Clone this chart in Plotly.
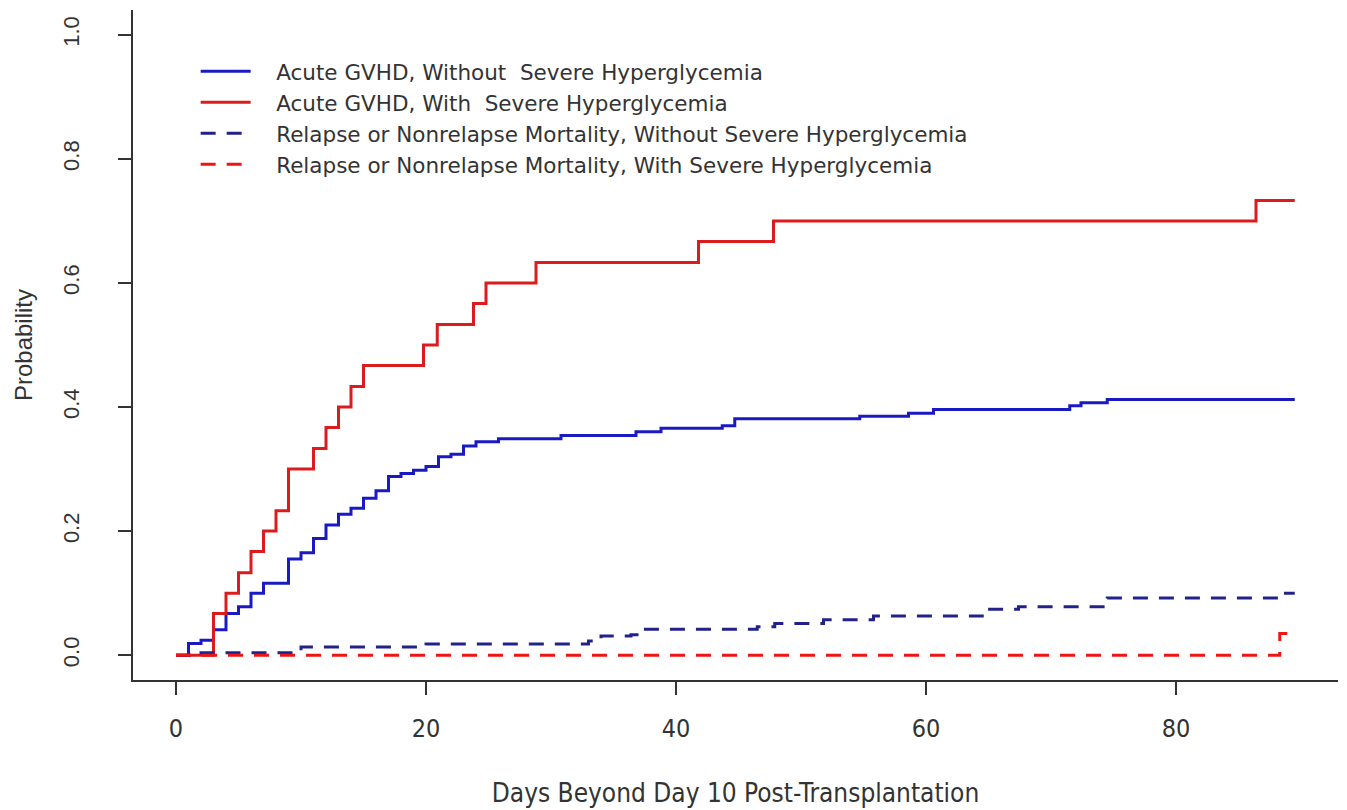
import plotly.graph_objects as go

# Acute GVHD, without severe hyperglycemia (step function)
gvhd_without_x = [0, 1, 2, 3, 4, 5, 6, 7, 9, 10, 11, 12, 13, 14, 15, 16, 17, 18, 19, 20,
                  21, 22, 23, 24, 25.8, 30.8, 36.8, 38.8, 43.7, 44.7, 54.7, 58.6, 60.6,
                  71.5, 72.4, 74.5, 89.5]
gvhd_without_y = [0, 0.019, 0.024, 0.041, 0.067, 0.078, 0.100, 0.116, 0.155, 0.165, 0.188,
                  0.210, 0.227, 0.237, 0.253, 0.265, 0.288, 0.293, 0.298, 0.304, 0.320,
                  0.324, 0.337, 0.344, 0.349, 0.354, 0.360, 0.366, 0.370, 0.381, 0.385,
                  0.390, 0.396, 0.402, 0.407, 0.412, 0.412]

# Acute GVHD, with severe hyperglycemia
gvhd_with_x = [0, 3, 4, 5, 6, 7, 8, 9, 11, 12, 13, 14, 15, 19.8, 20.9, 23.8, 24.8, 28.8,
               41.8, 47.8, 86.4, 89.5]
gvhd_with_y = [0, 0.067, 0.100, 0.133, 0.167, 0.200, 0.233, 0.300, 0.333, 0.367, 0.400,
               0.433, 0.467, 0.500, 0.533, 0.567, 0.600, 0.633, 0.667, 0.700, 0.733, 0.733]

# Relapse or nonrelapse mortality, without severe hyperglycemia
rel_without_x = [0, 2, 10, 20, 33, 34, 36.4, 37.3, 46.5, 47.9, 51.8, 55.8, 64.5, 67.4,
                 74.5, 88.5, 89.5]
rel_without_y = [0, 0.004, 0.013, 0.018, 0.023, 0.031, 0.033, 0.042, 0.046, 0.051, 0.057,
                 0.063, 0.074, 0.078, 0.092, 0.100, 0.100]

# Relapse or nonrelapse mortality, with severe hyperglycemia
rel_with_x = [0, 88.3, 89.5]
rel_with_y = [0, 0.035, 0.035]

x_ticks = [0, 20, 40, 60, 80]
y_ticks = [0.0, 0.2, 0.4, 0.6, 0.8, 1.0]

names = ["Acute GVHD, Without  Severe Hyperglycemia",
         "Acute GVHD, With  Severe Hyperglycemia",
         "Relapse or Nonrelapse Mortality, Without Severe Hyperglycemia",
         "Relapse or Nonrelapse Mortality, With Severe Hyperglycemia"]
pad = "\u00a0\u00a0\u00a0"

fig = go.Figure()
fig.add_trace(go.Scatter(x=gvhd_without_x, y=gvhd_without_y, mode="lines", name=pad + names[0],
                         line=dict(color="#1a1ac4", width=3, shape="hv")))
fig.add_trace(go.Scatter(x=gvhd_with_x, y=gvhd_with_y, mode="lines", name=pad + names[1],
                         line=dict(color="#dc1c1c", width=3, shape="hv")))
fig.add_trace(go.Scatter(x=rel_without_x, y=rel_without_y, mode="lines", name=pad + names[2],
                         line=dict(color="#22228a", width=3, shape="hv", dash="15px,11px")))
fig.add_trace(go.Scatter(x=rel_with_x, y=rel_with_y, mode="lines", name=pad + names[3],
                         line=dict(color="#ee1515", width=3, shape="hv", dash="15px,11px")))

axis_font = "DejaVu Sans Condensed, Liberation Sans, Arial, sans-serif"

fig.update_layout(
    width=1347, height=810,
    margin=dict(l=133, r=9, t=10, b=130),
    paper_bgcolor="white", plot_bgcolor="white",
    showlegend=True,
    legend=dict(x=0.052, y=0.939, xanchor="left", yanchor="top",
                bgcolor="rgba(0,0,0,0)", tracegroupgap=0, itemwidth=50,
                font=dict(family="DejaVu Sans", size=21.5, color="#333333")),
    xaxis=dict(range=[-3.44, 92.96], tickvals=x_ticks, ticks="outside", ticklen=13,
               tickwidth=1.5, tickcolor="#333", showline=True, linecolor="#333", linewidth=2,
               showgrid=False, zeroline=False, ticklabelstandoff=12, automargin=False,
               tickfont=dict(family=axis_font, size=25, color="#333"),
               title=dict(text="Days Beyond Day 10 Post-Transplantation", standoff=42,
                          font=dict(family=axis_font, size=26, color="#333"))),
    yaxis=dict(range=[-0.04, 1.04], tickvals=y_ticks, tickformat=".1f", ticks="outside",
               ticklen=13, tickwidth=1.5, tickcolor="#333", showline=True, linecolor="#333",
               linewidth=2, showgrid=False, zeroline=False, tickangle=-90,
               ticklabelstandoff=30, automargin=False,
               tickfont=dict(family="Liberation Sans", size=22, color="#333"),
               title=dict(text="Probability", standoff=20,
                          font=dict(family="Liberation Sans", size=24, color="#333"))),
)

fig.write_html("out.html")
